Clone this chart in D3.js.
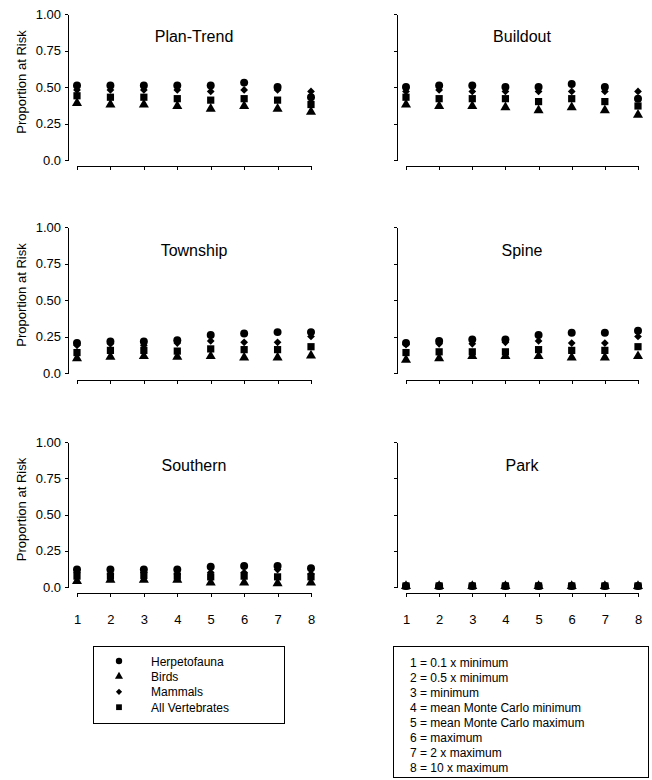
<!DOCTYPE html>
<head>
  <meta charset="utf-8">
  <script src="https://d3js.org/d3.v7.min.js"></script>
  <style>
body { margin: 0; background: #fff; }
svg { display: block; font-family: "Liberation Sans", Arial, sans-serif; }
.axis path, .axis line { stroke: #000; stroke-width: 1; shape-rendering: crispEdges; }
.axis text { font-size: 13px; fill: #000; font-family: "Liberation Sans", Arial, sans-serif; }
  </style>
</head>
<body>
<svg width="652" height="780"></svg>
<script>
// categories (x = multiplier level) and y tick labels
var levels = [1, 2, 3, 4, 5, 6, 7, 8];
var yTicks = [0, 0.25, 0.5, 0.75, 1];
var yTickLabels = ["0.0", "0.25", "0.50", "0.75", "1.00"];
var scenarios = ["Plan-Trend", "Buildout", "Township", "Spine", "Southern", "Park"];
var groups = ["Herpetofauna", "Birds", "Mammals", "All Vertebrates"];
var levelNotes = ["1 = 0.1 x minimum", "2 = 0.5 x minimum", "3 = minimum",
  "4 = mean Monte Carlo minimum", "5 = mean Monte Carlo maximum",
  "6 = maximum", "7 = 2 x maximum", "8 = 10 x maximum"];

// proportion at risk, one array per scenario x group
var planTrendHerp    = [0.51, 0.51, 0.51, 0.51, 0.51, 0.53, 0.50, 0.43];
var planTrendBirds   = [0.39, 0.38, 0.38, 0.37, 0.35, 0.37, 0.35, 0.33];
var planTrendMammals = [0.48, 0.48, 0.48, 0.48, 0.47, 0.48, 0.48, 0.47];
var planTrendAll     = [0.44, 0.43, 0.43, 0.42, 0.41, 0.42, 0.41, 0.38];

var buildoutHerp    = [0.50, 0.51, 0.51, 0.50, 0.50, 0.52, 0.50, 0.42];
var buildoutBirds   = [0.38, 0.37, 0.37, 0.36, 0.34, 0.36, 0.34, 0.31];
var buildoutMammals = [0.47, 0.48, 0.47, 0.47, 0.47, 0.47, 0.47, 0.47];
var buildoutAll     = [0.43, 0.42, 0.42, 0.42, 0.40, 0.42, 0.40, 0.37];

var townshipHerp    = [0.205, 0.215, 0.215, 0.225, 0.26, 0.27, 0.28, 0.28];
var townshipBirds   = [0.10, 0.11, 0.115, 0.11, 0.115, 0.105, 0.105, 0.12];
var townshipMammals = [0.19, 0.20, 0.19, 0.205, 0.22, 0.21, 0.21, 0.25];
var townshipAll     = [0.14, 0.155, 0.155, 0.15, 0.165, 0.16, 0.16, 0.18];

var spineHerp    = [0.205, 0.22, 0.23, 0.23, 0.26, 0.275, 0.275, 0.29];
var spineBirds   = [0.09, 0.10, 0.115, 0.115, 0.115, 0.105, 0.105, 0.115];
var spineMammals = [0.195, 0.20, 0.20, 0.21, 0.22, 0.205, 0.205, 0.25];
var spineAll     = [0.14, 0.145, 0.145, 0.145, 0.16, 0.155, 0.155, 0.18];

var southernHerp    = [0.12, 0.12, 0.12, 0.12, 0.14, 0.145, 0.145, 0.13];
var southernBirds   = [0.04, 0.05, 0.05, 0.05, 0.03, 0.03, 0.025, 0.03];
var southernMammals = [0.10, 0.09, 0.10, 0.09, 0.10, 0.10, 0.12, 0.09];
var southernAll     = [0.075, 0.075, 0.08, 0.075, 0.07, 0.075, 0.07, 0.07];

var parkHerp    = [0.007, 0.007, 0.007, 0.007, 0.007, 0.007, 0.007, 0.007];
var parkBirds   = [0.006, 0.007, 0.007, 0.007, 0.007, 0.007, 0.007, 0.007];
var parkMammals = [0.007, 0.007, 0.007, 0.007, 0.007, 0.007, 0.007, 0.007];
var parkAll     = [0.007, 0.007, 0.007, 0.007, 0.007, 0.007, 0.007, 0.007];

var values = [
  [planTrendHerp, planTrendBirds, planTrendMammals, planTrendAll],
  [buildoutHerp, buildoutBirds, buildoutMammals, buildoutAll],
  [townshipHerp, townshipBirds, townshipMammals, townshipAll],
  [spineHerp, spineBirds, spineMammals, spineAll],
  [southernHerp, southernBirds, southernMammals, southernAll],
  [parkHerp, parkBirds, parkMammals, parkAll]
];

var svg = d3.select("svg");

// panel layout
var rowTop = [14, 227, 442];
var rowBottom = [160, 373, 587];
var xAxisY = [166, 380, 593];
var colAxisX = [68, 397];
var colRange = [[77, 311], [406, 638]];

// symbols: circle, triangle, diamond (rotated square), square
var symbols = [
  {type: d3.symbolCircle, size: 50, rot: 0},
  {type: d3.symbolTriangle, size: 44, rot: 0},
  {type: d3.symbolSquare, size: 30, rot: 45},
  {type: d3.symbolSquare, size: 52, rot: 0}
];
function sym(i) { return d3.symbol().type(symbols[i].type).size(symbols[i].size)(); }

scenarios.forEach(function(name, p) {
  var row = Math.floor(p / 2), col = p % 2;
  var y = d3.scaleLinear().domain([0, 1]).range([rowBottom[row], rowTop[row]]);
  var x = d3.scaleLinear().domain([1, 8]).range(colRange[col]);

  var yAxis = d3.axisLeft(y).tickValues(yTicks).tickSize(3).tickSizeOuter(0).tickPadding(4)
    .tickFormat(function(d, i) { return col === 0 ? yTickLabels[i] : ""; });
  svg.append("g").attr("class", "axis")
    .attr("transform", "translate(" + colAxisX[col] + ",0)")
    .call(yAxis);

  var xAxis = d3.axisBottom(x).tickValues(levels).tickSize(4).tickSizeOuter(0).tickPadding(18)
    .tickFormat(function(d) { return row === 2 ? d : ""; });
  svg.append("g").attr("class", "axis")
    .attr("transform", "translate(0," + xAxisY[row] + ")")
    .call(xAxis);

  if (col === 0) {
    svg.append("text")
      .attr("transform", "translate(26," + ((rowTop[row] + rowBottom[row]) / 2 - 5) + ") rotate(-90)")
      .attr("text-anchor", "middle")
      .attr("font-size", 13)
      .text("Proportion at Risk");
  }

  svg.append("text")
    .attr("x", (colRange[col][0] + colRange[col][1]) / 2)
    .attr("y", rowTop[row] + 28 + (row > 0 ? 1 : 0))
    .attr("text-anchor", "middle")
    .attr("font-size", 16)
    .text(name);

  values[p].forEach(function(series, g) {
    svg.append("g").selectAll("path")
      .data(series)
      .enter().append("path")
      .attr("d", sym(g))
      .attr("fill", "#000")
      .attr("transform", function(d, i) {
        return "translate(" + x(levels[i]) + "," + y(d) + ") rotate(" + symbols[g].rot + ")";
      });
  });
});

// legend of groups
var leg = svg.append("g");
leg.append("rect").attr("x", 93.5).attr("y", 646.5).attr("width", 191).attr("height", 77)
  .attr("fill", "none").attr("stroke", "#000");
groups.forEach(function(gname, g) {
  var cy = 661 + g * 15.4;
  leg.append("path").attr("d", sym(g)).attr("fill", "#000")
    .attr("transform", "translate(119," + cy + ") rotate(" + symbols[g].rot + ") scale(0.8)");
  leg.append("text").attr("x", 151).attr("y", cy + 4.5).attr("font-size", 12).text(gname);
});

// legend of levels
var leg2 = svg.append("g");
leg2.append("rect").attr("x", 393.5).attr("y", 646.5).attr("width", 255).attr("height", 131)
  .attr("fill", "none").attr("stroke", "#000");
levelNotes.forEach(function(t, i) {
  leg2.append("text").attr("x", 410).attr("y", 666.5 + i * 15.1).attr("font-size", 12).text(t);
});
</script>
</body>
